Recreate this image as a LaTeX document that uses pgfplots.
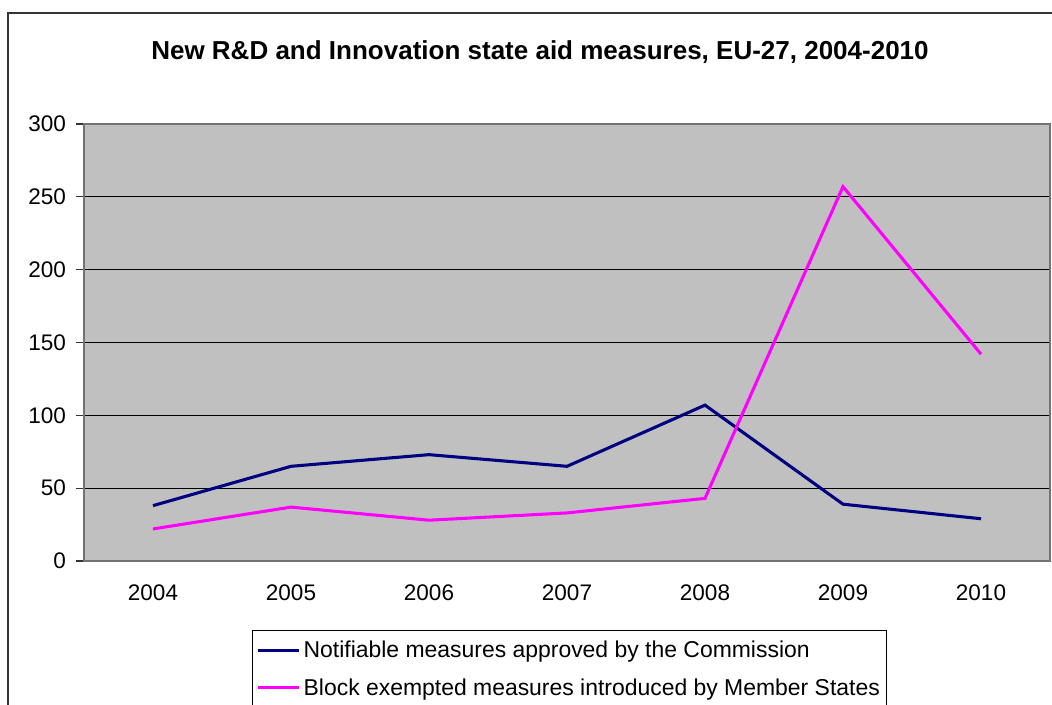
\documentclass[border=0pt]{standalone}
\usepackage{pgfplots}
\pgfplotsset{compat=1.18}
\usepackage{fontspec}
\setmainfont{Liberation Sans}

\definecolor{navyline}{RGB}{0,0,128}
\definecolor{magline}{RGB}{255,0,255}
\definecolor{plotbg}{RGB}{192,192,192}

\begin{document}
\begin{tikzpicture}
	\useasboundingbox (0,0) rectangle (789pt,528.75pt);
	% outer chart frame (right and bottom edges fall outside the picture)
	\draw[black!80, line width=1.1pt] (6pt,-20pt) -- (6pt,519pt) -- (820pt,519pt);
	\node[font=\fontsize{19.5}{22}\selectfont\bfseries] at (405pt,489.75pt)
		{New R\&D and Innovation state aid measures, EU-27, 2004-2010};

	\begin{axis}[
		at={(63pt,108pt)}, anchor=south west,
		scale only axis,
		width=724.5pt, height=327.75pt,
		xmin=-0.5, xmax=6.5,
		ymin=0, ymax=300,
		xtick={0,...,6},
		xticklabels={2004,2005,2006,2007,2008,2009,2010},
		minor xtick={-0.5,0.5,...,6.5},
		ytick={0,50,...,300},
		/pgf/number format/assume math mode=true,
		tick pos=left,
		tick align=outside,
		major tick length=6pt,
		minor tick length=5pt,
		xtick style={draw=none},
		minor tick style={black!80, line width=0.8pt},
		ytick style={black!80, line width=0.8pt},
		ymajorgrids=true,
		grid style={black, line width=0.75pt},
		axis line style={black!55, line width=1.1pt},
		axis background/.style={fill=plotbg},
		tick label style={font=\fontsize{16.9}{20}\selectfont},
		xticklabel style={yshift=-8pt},
		yticklabel style={xshift=-4pt},
		every axis plot/.append style={line width=2.3pt, line join=miter,
			legend image code/.code={\draw[##1] (0pt,0pt) -- (31pt,0pt);}},
		legend cell align=left,
		legend style={at={(0.174,-0.158)}, anchor=north west,
			draw=black, line width=0.75pt, fill=white,
			font=\fontsize{17.2}{20}\selectfont,
			inner xsep=3pt, inner ysep=6pt,
			row sep=10pt},
		clip=false,
		]

		\addplot[color=navyline] coordinates {
			(0,38)(1,65)(2,73)(3,65)(4,107)(5,39)(6,29)
		};
		\addlegendentry{Notifiable measures approved by the Commission}

		\addplot[color=magline] coordinates {
			(0,22)(1,37)(2,28)(3,33)(4,43)(5,257)(6,142)
		};
		\addlegendentry{Block exempted measures introduced by Member States}

	\end{axis}
\end{tikzpicture}
\end{document}
